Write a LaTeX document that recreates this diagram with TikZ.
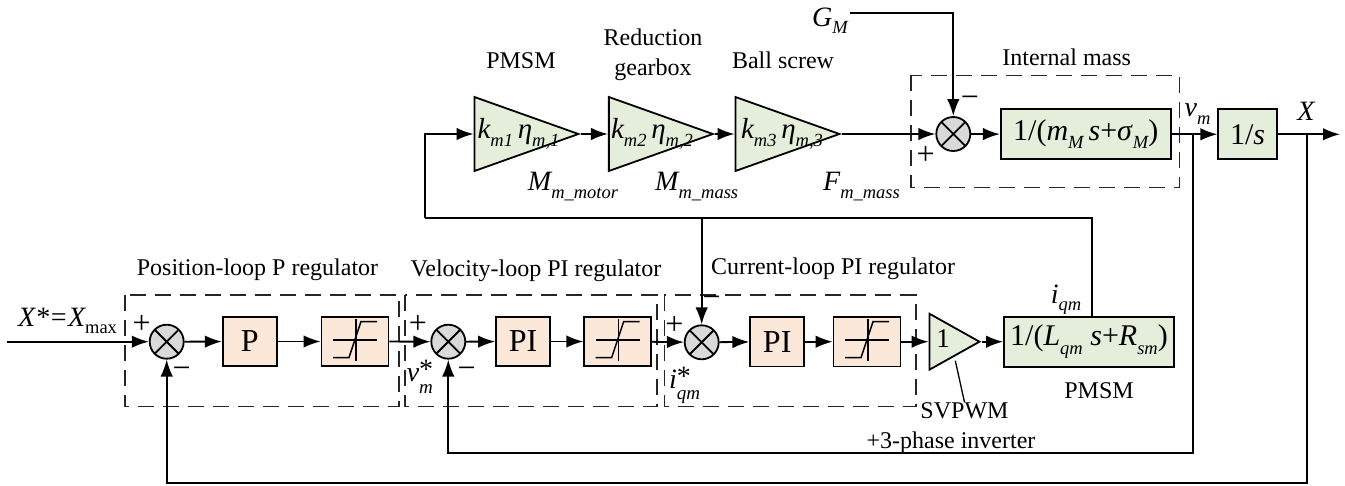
\documentclass[tikz,border=0pt]{standalone}
\usepackage{fontspec}
\setmainfont{Liberation Serif}
\usetikzlibrary{arrows.meta,shapes.geometric}
\definecolor{plantgreen}{HTML}{E5EEDB}
\definecolor{regorange}{HTML}{FBE8D9}
\definecolor{sumgray}{HTML}{D9D9D9}
% italic letter with its index
\newcommand{\lowtext}[1]{\raisebox{-0.28em}{\fontsize{18.5}{18.5}\selectfont\itshape #1}}
\tikzset{
  every node/.style={font=\fontsize{24}{24}\selectfont,inner sep=0pt},
  wire/.style={line width=1.8pt,-{Latex[length=17pt,width=12.5pt]}},
  plainwire/.style={line width=1.8pt},
  sumnode/.style={circle,draw,line width=1.8pt,fill=sumgray,minimum size=34pt,
    path picture={\draw[line width=1.8pt]
      (path picture bounding box.south west) -- (path picture bounding box.north east)
      (path picture bounding box.north west) -- (path picture bounding box.south east);}},
  regbox/.style={draw,line width=1.8pt,fill=regorange,minimum height=49.5pt,font=\fontsize{32}{32}\selectfont},
  plantbox/.style={draw,line width=1.8pt,fill=plantgreen,minimum height=50pt,font=\fontsize{30}{30}\selectfont},
  gainnode/.style={draw,line width=1.8pt,fill=plantgreen,isosceles triangle,isosceles triangle stretches,
    shape border rotate=0,minimum width=74pt,minimum height=104pt,anchor=apex},
  dashbox/.style={line width=1.3pt,black!85,dash pattern=on 16pt off 9pt},
  lab/.style={anchor=base},
  mathlab/.style={anchor=base,font=\fontsize{28}{28}\selectfont\itshape},
  signlab/.style={font=\fontsize{32}{32}\selectfont},
  satcurve/.pic={
    \draw[line width=1.5pt] (-22,-1.5) -- (22,-1.5) (1,-22.5) -- (1,19);
    \draw[line width=1.5pt] (-22,16) -- (-6,16) -- (6,-20) -- (22,-20);
  }
}
\begin{document}
\begin{tikzpicture}[x=1pt,y=-1pt]
    \useasboundingbox (0,0) rectangle (1345,485);

    % Dashed groups %
    \draw[dashbox] (125,295) rectangle (399,406.7);
    \draw[dashbox] (405,295) rectangle (657,406.7);
    \draw[dashbox] (664.3,295) rectangle (916,406.7);
    \draw[dashbox] (911,75.3) rectangle (1179.3,187.3);

    % Lower row %
    \node[sumnode] (sumP) at (166.7,341.7) {};
    \node[regbox,minimum width=54pt] (boxP) at (249.7,341.5) {P};
    \node[regbox,minimum width=67pt] (satP) at (355,341.5) {};
    \node[sumnode] (sumV) at (448.3,341.7) {};
    \node[regbox,minimum width=54pt] (boxV) at (523,341.5) {PI};
    \node[regbox,minimum width=67pt] (satV) at (617.7,341.5) {};
    \node[sumnode] (sumI) at (701.7,342.3) {};
    \node[regbox,minimum width=54pt] (boxI) at (777.2,341.7) {PI};
    \node[regbox,minimum width=67pt] (satI) at (867,341.7) {};
    \node[gainnode,minimum width=56pt,minimum height=50pt] (gainPWM) at (981.8,341.7) {};
    \node[plantbox,minimum width=170pt] (plantI) at (1089,341.7) {1/(\textit{L}\lowtext{qm} \textit{s}+\textit{R}\lowtext{sm})};
    \pic at (satP) {satcurve};
    \pic at (satV) {satcurve};
    \pic at (satI) {satcurve};

    % Upper row %
    \node[gainnode] (gainA) at (580.8,134) {};
    \node[gainnode] (gainB) at (715.2,134) {};
    \node[gainnode] (gainC) at (841.8,134) {};
    \node[sumnode] (sumM) at (953.3,134) {};
    \node[plantbox,minimum width=170pt] (plantM) at (1085.8,134.3) {1/(\textit{m}\lowtext{M}\,\textit{s}+\textit{σ}\lowtext{M})};
    \node[plantbox,minimum width=58.4pt] (integ) at (1247.5,134.3) {1/\textit{s}};

    % Free ends %
    \coordinate (inStart) at (7,341.7);
    \coordinate (outEnd) at (1340,134.3);
    \coordinate (gravStart) at (850,12.7);
    \coordinate (gravCorner) at (953.3,12.7);
    \coordinate (iqTap) at (1092.3,217.7);
    \coordinate (iqLeft) at (425,217.7);
    \coordinate (vTap) at (1192.7,134.3);
    \coordinate (vDown) at (1192.7,452.7);
    \coordinate (xTap) at (1307.3,134.3);
    \coordinate (xDown) at (1307.3,482.7);

    % Forward path %
    \draw[wire] (inStart) -- (sumP);
    \foreach \a/\b in {sumP/boxP,boxP/satP,satP/sumV,sumV/boxV,boxV/satV,satV/sumI,sumI/boxI,boxI/satI,
                       gainA.apex/gainB.west,gainB.apex/gainC.west,sumM/plantM,plantM/integ}
      \draw[wire] (\a) -- (\b);
    \draw[wire] (satI) -- (gainPWM.west |- satI);
    \draw[wire] (gainPWM.apex) -- (plantI.west);
    \draw[wire] (gainC.apex) -- (sumM);
    \draw[wire] (integ) -- (outEnd);
    \draw[wire] (gravStart) -- (gravCorner) -- (sumM);

    % Feedback %
    \draw[plainwire] (plantI.north -| iqTap) -- (iqTap) -- (iqLeft);
    \draw[wire] (iqLeft) |- (gainA.west);
    \draw[wire] (sumI |- iqTap) -- (sumI);
    \draw[wire] (vTap) -- (vDown) -- (sumV |- vDown) -- (sumV);
    \draw[wire] (xTap) -- (xDown) -- (sumP |- xDown) -- (sumP);

    % Signs %
    \node[signlab] (plusP) at (141.7,324) {+};
    \node[signlab] (minusP) at (181.7,373) {\textminus};
    \node[signlab] (plusV) at (418,324) {+};
    \node[signlab] (minusV) at (466.7,373) {\textminus};
    \node[signlab] (plusI) at (674.3,325) {+};
    \node[signlab] (minusI) at (711.7,301.7) {\textminus};
    \node[signlab] (plusM) at (925.7,155) {+};
    \node[signlab] (minusM) at (970,101.7) {\textminus};

    % Labels %
    \node[lab] (nameP) at (257.5,275) {Position-loop P regulator};
    \node[lab] (nameV) at (536,276) {Velocity-loop PI regulator};
    \node[lab] (nameI) at (833,274) {Current-loop PI regulator};
    \node[lab] (nameMotor) at (521,68) {PMSM};
    \node[lab] (nameGearA) at (653,45) {Reduction};
    \node[lab] (nameGearB) at (653,75) {gearbox};
    \node[lab] (nameScrew) at (783,68) {Ball screw};
    \node[lab] (nameMass) at (1066.7,65) {Internal mass};
    \node[lab] (namePlant) at (1099,398.3) {PMSM};
    \node[lab] (nameSvpwm) at (964.5,418.3) {SVPWM};
    \node[lab] (nameInv) at (951,448) {+3-phase inverter};
    \node[lab,font=\fontsize{27}{27}\selectfont] (gainOne) at (943,347.3) {1};

    \node[mathlab] (inLab) at (67.5,326) {X*=X\lowtext{\normalfont max}};
    \node[mathlab] (xLab) at (1306,120.7) {X};
    \node[mathlab] (gLab) at (830,26) {G\lowtext{M}};
    \node[mathlab] (vmLab) at (1197.5,116.7) {v\lowtext{m}};
    \node[mathlab] (iqLab) at (1066,303) {i\lowtext{qm}};
    \node[mathlab] (vsLab) at (420,381.7) {v\rlap{\raisebox{-0.42em}{\fontsize{19}{19}\selectfont\itshape m}}\raisebox{0.1em}{\normalfont*}};
    \node[mathlab] (isLab) at (680,388) {i\rlap{\raisebox{-0.42em}{\fontsize{19}{19}\selectfont\itshape qm}}\raisebox{0.1em}{\normalfont*}};
    \node[mathlab,font=\fontsize{29}{29}\selectfont\itshape] (kaLab) at (518.5,138) {k\lowtext{m1}\,η\lowtext{m,1}};
    \node[mathlab,font=\fontsize{29}{29}\selectfont\itshape] (kbLab) at (652,138) {k\lowtext{m2}\,η\lowtext{m,2}};
    \node[mathlab,font=\fontsize{29}{29}\selectfont\itshape] (kcLab) at (782,138) {k\lowtext{m3}\,η\lowtext{m,3}};
    \node[mathlab] (mmLab) at (573,190.7) {M\lowtext{m\_motor}};
    \node[mathlab] (mgLab) at (696.7,190.7) {M\lowtext{m\_mass}};
    \node[mathlab] (fmLab) at (861.5,190.7) {F\lowtext{m\_mass}};

    % Pointer to inverter %
    \coordinate (svTop) at (955.3,360.7);
    \draw[line width=1.3pt] (svTop) -- (nameSvpwm.north);
\end{tikzpicture}
\end{document}
